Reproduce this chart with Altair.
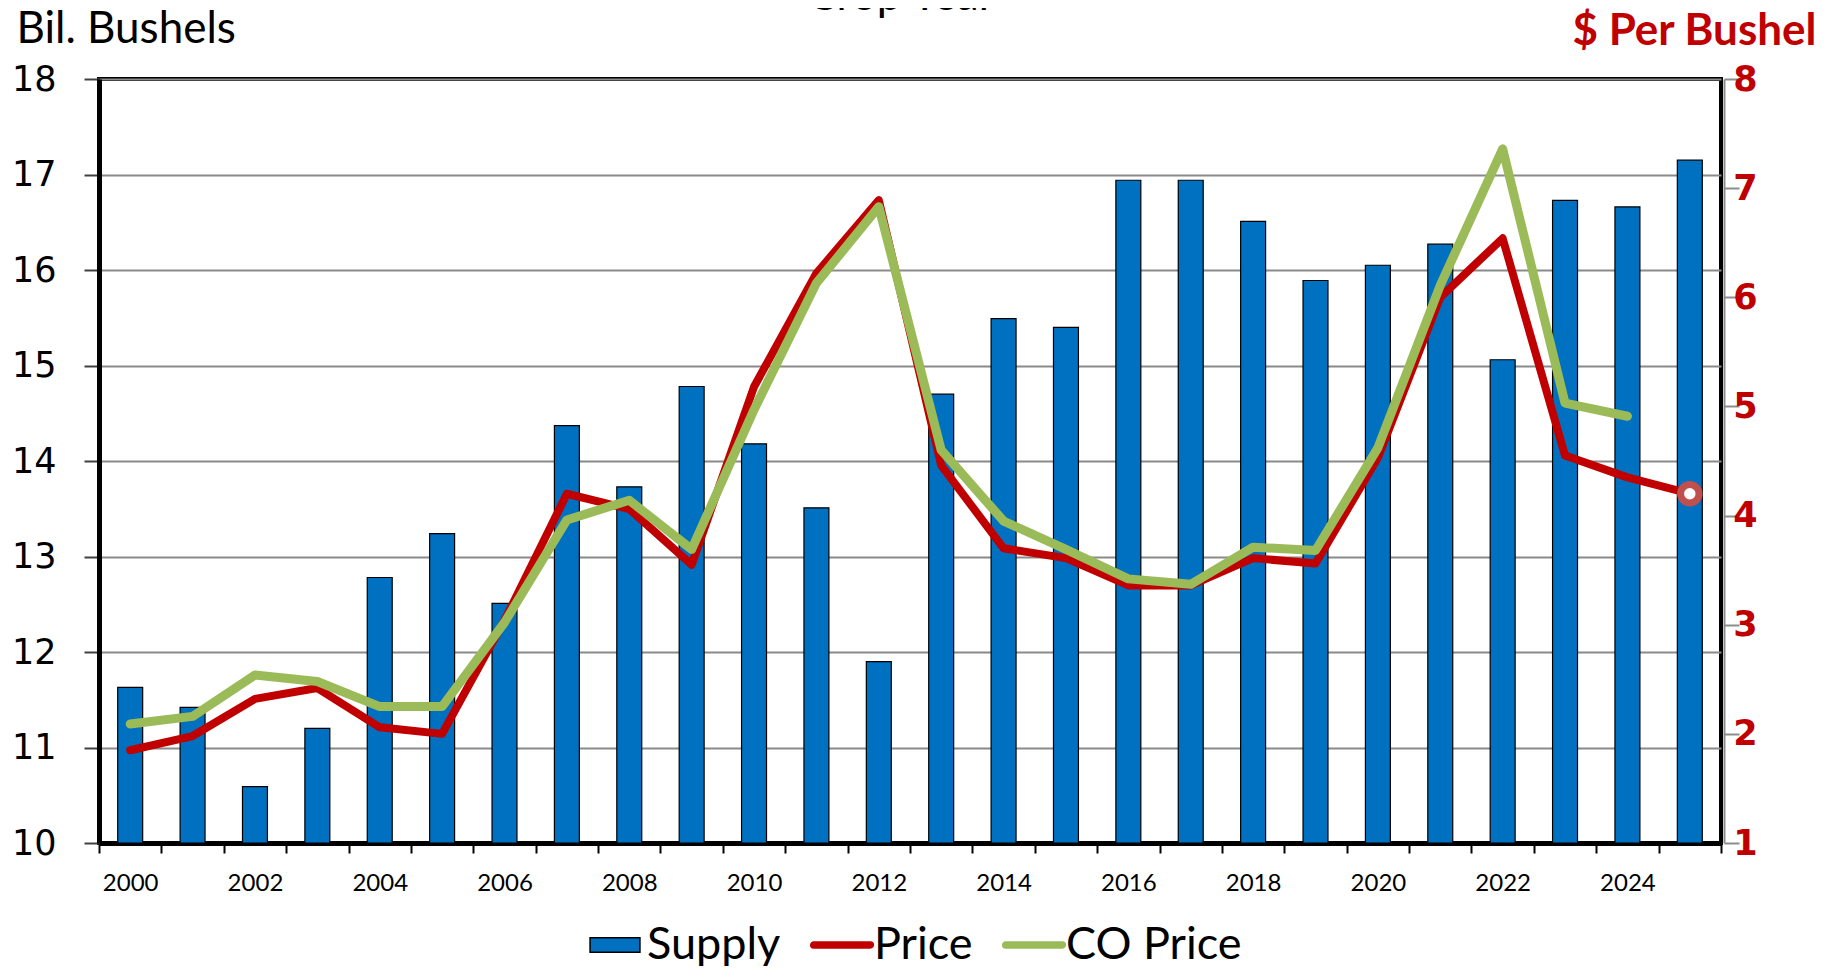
import altair as alt
import pandas as pd
import numpy as np

years = [str(y) for y in range(2000, 2026)]
supply = [11.63, 11.42, 10.59, 11.20, 12.78, 13.24, 12.51, 14.37, 13.73, 14.78,
          14.18, 13.51, 11.90, 14.70, 15.49, 15.40, 16.94, 16.94, 16.51, 15.89,
          16.05, 16.27, 15.06, 16.73, 16.66, 17.15]
price = [1.85, 1.98, 2.32, 2.42, 2.06, 2.00, 3.04, 4.20, 4.06, 3.55,
         5.18, 6.22, 6.89, 4.46, 3.70, 3.61, 3.36, 3.36, 3.61, 3.56,
         4.53, 6.00, 6.54, 4.55, 4.35, 4.20]
co_price = [2.09, 2.16, 2.54, 2.48, 2.25, 2.25, 3.02, 3.96, 4.14, 3.69,
            4.97, 6.13, 6.83, 4.60, 3.95, 3.69, 3.42, 3.37, 3.71, 3.68,
            4.62, 6.11, 7.36, 5.03, 4.91, None]
series_names = ["Supply", "Price", "CO Price"]
series_fill = ["#0070C0", "#C00000", "#9BBB59"]
series_stroke = ["#000000", "#C00000", "#9BBB59"]
chart_title = ["Crop Year"]

df = pd.DataFrame({
    "year": years,
    "supply": supply,
    "price": price,
    "co": [np.nan if v is None else v for v in co_price],
})
marker_df = df[df["year"] == "2025"]
legend_df = pd.DataFrame({"series": series_names})
title_df = pd.DataFrame({"t": chart_title})

NARROW = "Lato, Open Sans, sans-serif"

W, H = 1622, 764

x_enc = alt.X(
    "year:O",
    scale=alt.Scale(paddingInner=0, paddingOuter=0),
    axis=alt.Axis(
        title=None, tickBand="extent", labelAngle=0,
        labelExpr="toNumber(datum.value) % 2 === 0 ? datum.value : ''",
        labelFont=NARROW, labelFontSize=24, labelColor="#000000",
        labelPadding=18, tickSize=10, tickColor="#000000", tickWidth=2,
        domain=True, domainColor="#000000", domainWidth=5, grid=False,
    ),
)

left_y = alt.Y(
    "supply:Q",
    scale=alt.Scale(domain=[10, 18], zero=False, nice=False),
    axis=alt.Axis(
        values=list(range(10, 19)), orient="left",
        title="Bil. Bushels", titleAngle=0, titleAlign="left",
        titleBaseline="alphabetic", titleX=-83, titleY=-37,
        titleFont=NARROW, titleFontSize=44, titleFontWeight="normal",
        titleColor="#000000",
        labelFont="DejaVu Sans", labelFontSize=35, labelColor="#000000",
        labelPadding=28, tickSize=15, tickColor="#404040", tickWidth=2,
        domain=True, domainColor="#000000", domainWidth=5,
        grid=True, gridColor="#8a8a8a", gridWidth=2,
    ),
)

right_axis = alt.Axis(
    values=list(range(1, 9)), orient="right", offset=3,
    title="$ Per Bushel", titleAngle=0, titleAlign="right",
    titleBaseline="alphabetic", titleX=92, titleY=-35,
    titleFont=NARROW, titleFontSize=44, titleFontWeight="bold",
    titleColor="#C00000",
    labelFont="DejaVu Sans", labelFontSize=35, labelFontWeight="bold",
    labelColor="#C00000", labelAlign="center", labelPadding=6,
    tickSize=15, tickColor="#8c8c8c", tickWidth=2,
    domain=True, domainColor="#8c8c8c", domainWidth=2, grid=False,
)
right_scale = alt.Scale(domain=[1, 8], zero=False, nice=False)

bars = alt.Chart(df).mark_bar(
    width=alt.RelativeBandSize(0.4), color="#0070C0",
    stroke="#000000", strokeWidth=1.2,
).encode(x=x_enc, y=left_y, y2=alt.datum(10))

red = alt.Chart(df).mark_line(
    color="#C00000", strokeWidth=8, strokeCap="round", strokeJoin="round",
).encode(x=x_enc, y=alt.Y("price:Q", scale=right_scale, axis=right_axis))

green = alt.Chart(df).mark_line(
    color="#9BBB59", strokeWidth=9, strokeCap="round", strokeJoin="round",
).encode(x=x_enc, y=alt.Y("co:Q", scale=right_scale, axis=right_axis))

marker = alt.Chart(marker_df).mark_point(
    shape="circle", size=340, filled=True, fill="#FFFFFF",
    stroke="#C0504D", strokeWidth=7, opacity=1,
).encode(x=x_enc, y=alt.Y("price:Q", scale=right_scale, axis=right_axis))

leg = alt.Legend(
    orient="none", legendX=486, legendY=836, direction="horizontal",
    title=None, labelFont=NARROW, labelFontSize=45, labelColor="#000000",
    symbolSize=3364, labelOffset=2, columnPadding=26, symbolOpacity=1,
    symbolStrokeWidth=1.5, padding=0, labelLimit=0,
)
rect_path = "M-0.86,-0.25H0.86V0.25H-0.86Z"
line_path = ("M-0.98,-0.1H0.98A0.1,0.1 0 0 1 0.98,0.1H-0.98"
             "A0.1,0.1 0 0 1 -0.98,-0.1Z")

legend_layer = alt.Chart(legend_df).mark_point(filled=True, opacity=0).encode(
    color=alt.Color("series:N", scale=alt.Scale(domain=series_names, range=series_fill), legend=leg),
    stroke=alt.Stroke("series:N", scale=alt.Scale(domain=series_names, range=series_stroke), legend=leg),
    shape=alt.Shape("series:N", scale=alt.Scale(domain=series_names, range=[rect_path, line_path, line_path]), legend=leg),
)

title_layer = alt.Chart(title_df).mark_text(
    font=NARROW, fontSize=44, color="#000000", align="center",
    baseline="alphabetic",
).encode(x=alt.value(802), y=alt.value(-69), text="t:N")

lines = alt.layer(red, green, marker)

chart = alt.layer(bars, lines, legend_layer, title_layer).resolve_scale(
    y="independent"
).properties(
    width=W, height=H,
    background="#FFFFFF",
    autosize=alt.AutoSizeParams(type="none"),
    padding={"left": 91, "top": 71, "right": 99, "bottom": 123},
).configure_view(
    stroke="#000000", strokeWidth=4
)

chart.save("out.html", embed_options={"renderer": "svg", "actions": False})
